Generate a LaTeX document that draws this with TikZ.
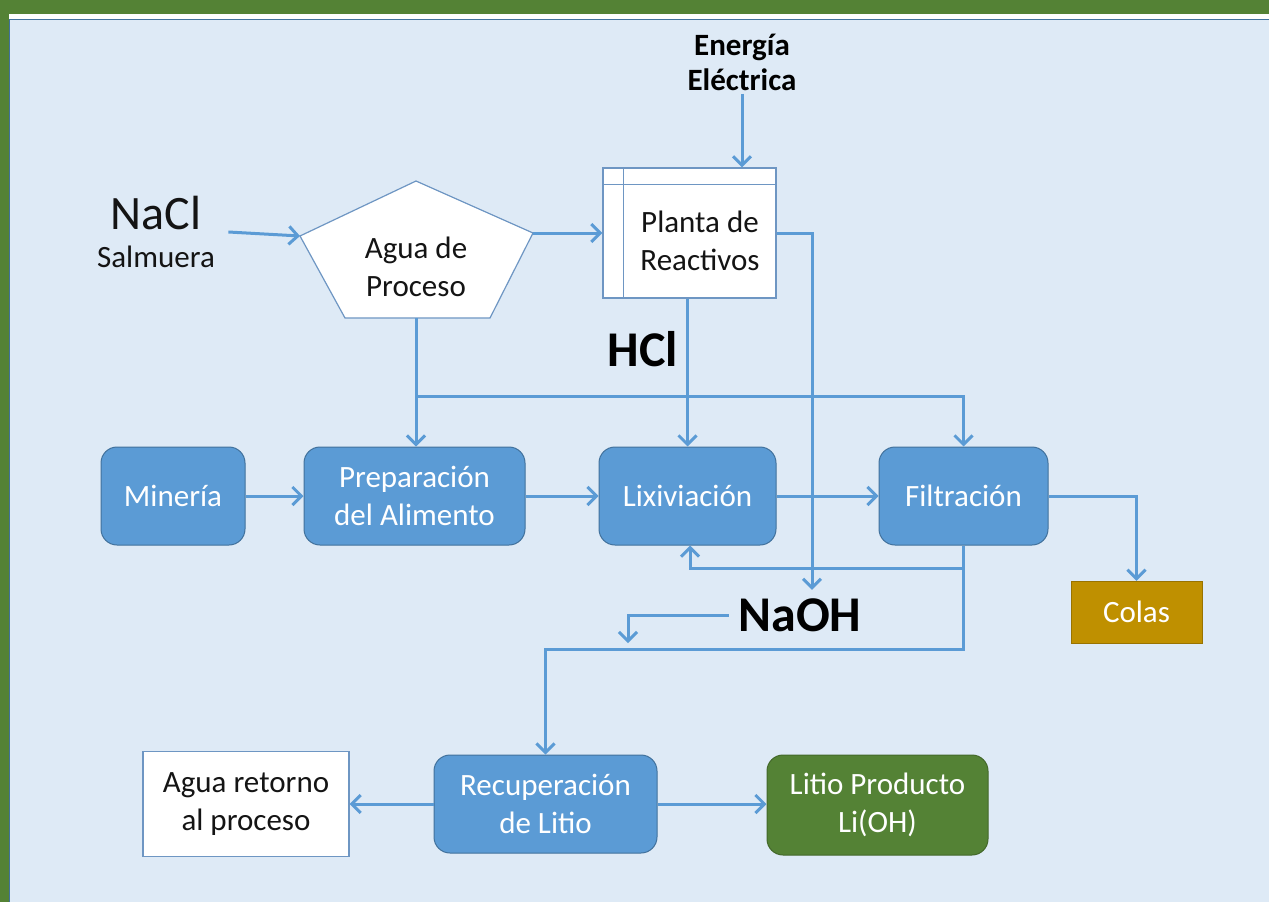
\documentclass[tikz,border=0pt]{standalone}
\usepackage{fontspec}
\setmainfont{Carlito}
\usetikzlibrary{arrows.meta}
\definecolor{framegreen}{RGB}{84,130,53}
\definecolor{paleblue}{RGB}{222,234,246}
\definecolor{flowblue}{RGB}{91,155,213}
\definecolor{edgeblue}{RGB}{65,113,156}
\definecolor{thinblue}{RGB}{110,150,195}
\definecolor{colasgold}{RGB}{191,144,0}
\definecolor{inkgray}{RGB}{20,20,20}

\tikzset{
  boxfont/.style={font=\fontsize{31}{38}\selectfont},
  procbox/.style={boxfont, draw=edgeblue, line width=1pt, fill=flowblue, text=white, rounded corners=16pt, align=center, inner sep=0pt},
  whitebox/.style={boxfont, draw=thinblue, line width=1.2pt, fill=white, text=inkgray, align=center, inner sep=0pt},
  flow/.style={draw=flowblue, line width=3pt, -{Straight Barb[length=9pt,width=18pt]}},
  bigbold/.style={font=\fontsize{50}{60}\selectfont\bfseries, text=black},
}

\begin{document}
\begin{tikzpicture}[x=1pt,y=-1pt]
    \useasboundingbox (0,0) rectangle (1269,902);
    % Frame and background
    \fill[framegreen] (0,0) rectangle (1269,902);
    \fill[white] (9,14) rectangle (1269,902);
    \fill[paleblue] (9,19) rectangle (1269,902);
    \draw[edgeblue, line width=1pt] (9.5,902) -- (9.5,19) -- (1269,19);

    % Inputs
    \node[boxfont, text=inkgray, align=center] (nacl) at (156,232) {{\fontsize{48}{50}\selectfont NaCl}\\Salmuera};
    \node[font=\fontsize{31}{35}\selectfont\bfseries, align=center] (energia) at (742,62) {Energía\\Eléctrica};

    % Process water (pentagon)
    \coordinate (pt) at (416,181);
    \coordinate (pl) at (300,236);
    \coordinate (pr) at (533,233);
    \coordinate (pbr) at (490,318);
    \coordinate (pbl) at (345,318);
    \coordinate (pb) at (416,318);
    \draw[thinblue, line width=1.2pt, fill=white] (pt) -- (pr) -- (pbr) -- (pbl) -- (pl) -- cycle;
    \node[boxfont, text=inkgray, align=center] (agua) at (416,267) {Agua de\\Proceso};

    % Reagents plant
    \node[whitebox, minimum width=173pt, minimum height=130pt] (planta) at (689.5,233) {};
    \draw[thinblue, line width=1.2pt] ([xshift=21pt]planta.north west) -- ([xshift=21pt]planta.south west)
        ([yshift=-17pt]planta.north west) -- ([yshift=-17pt]planta.north east);
    \node[boxfont, text=inkgray, align=center] (plantatxt) at (700,241) {Planta de\\Reactivos};

    % Main line
    \node[procbox, minimum width=144pt, minimum height=98pt] (mineria) at (173,496) {Minería};
    \node[procbox, minimum width=221pt, minimum height=98pt] (prep) at (414.5,496) {Preparación\\del Alimento};
    \node[procbox, minimum width=177pt, minimum height=98pt] (lix) at (687.5,496) {Lixiviación};
    \node[procbox, minimum width=169pt, minimum height=98pt] (filt) at (963.5,496) {Filtración};
    \node[boxfont, draw=colasgold!80!black, fill=colasgold, text=white, minimum width=131pt, minimum height=62pt, inner sep=0pt] (colas) at (1136.5,612) {Colas};

    % Reagent labels
    \node[bigbold] (hcl) at (643,349) {HCl};
    \node[bigbold] (naoh) at (800,615) {NaOH};

    % Recovery and products
    \node[procbox, minimum width=223pt, minimum height=98pt] (recup) at (545.5,804) {Recuperación\\de Litio};
    \node[whitebox, minimum width=206pt, minimum height=105pt] (ret) at (246,804) {Agua retorno\\al proceso};
    \node[procbox, draw=framegreen!80!black, fill=framegreen, minimum width=221pt, minimum height=100pt] (litio) at (877.5,805) {Litio Producto\\Li(OH)};

    % Flows
    \draw[flow] ([xshift=10pt]nacl.east) -- (pl);
    \draw[flow] (pr) -- (planta.west);
    \draw[flow] (energia.south) -- (energia.south |- planta.north);
    \draw[flow] (lix.north |- planta.south) -- (lix.north);
    \draw[flow, shorten >=5pt] (planta.east) -| ([xshift=12pt]naoh.north);
    \draw[flow] (pb) -- (pb |- prep.north);
    \coordinate (split) at (416,396);
    \draw[flow] (split) -| (filt.north);
    \draw[flow] (mineria) -- (prep);
    \draw[flow] (prep) -- (lix);
    \draw[flow] (lix) -- (filt);
    \draw[flow] (filt.east) -| (colas.north);
    \draw[flow] (filt.south) -- ++(0,104) -| (recup.north);
    \draw[flow] ([yshift=-23pt]filt.south) -| ([xshift=2.5pt]lix.south);
    \coordinate (naohdrop) at (628,643);
    \draw[flow] ([xshift=-6pt]naoh.west) -| (naohdrop);
    \draw[flow] (recup.west) -- (recup.west -| ret.east);
    \draw[flow] (recup.east) -- (recup.east -| litio.west);
\end{tikzpicture}
\end{document}
